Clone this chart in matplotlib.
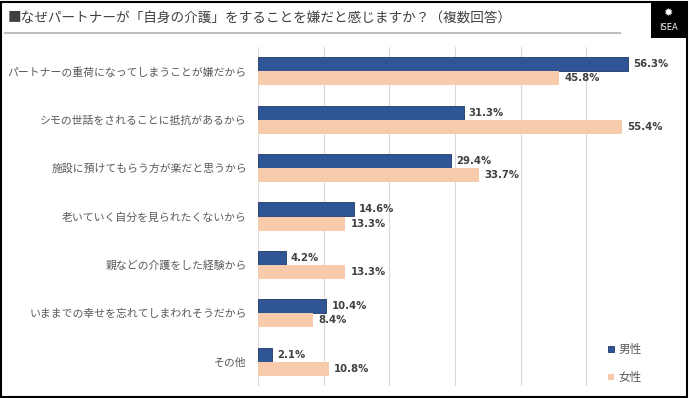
import matplotlib
matplotlib.use("Agg")
import matplotlib.pyplot as plt
from matplotlib.patches import Rectangle
from matplotlib.lines import Line2D
import numpy as np

plt.rcParams['font.family'] = ['Noto Sans CJK JP', 'DejaVu Sans']

title = "■なぜパートナーが「自身の介護」をすることを嫌だと感じますか？（複数回答）"
categories = [
    "パートナーの重荷になってしまうことが嫌だから",
    "シモの世話をされることに抵抗があるから",
    "施設に預けてもらう方が楽だと思うから",
    "老いていく自分を見られたくないから",
    "親などの介護をした経験から",
    "いままでの幸せを忘れてしまわれそうだから",
    "その他",
]
male = [56.3, 31.3, 29.4, 14.6, 4.2, 10.4, 2.1]
female = [45.8, 55.4, 33.7, 13.3, 13.3, 8.4, 10.8]
series_names = ["男性", "女性"]

male_color = "#2F5597"
female_color = "#F8CBAD"
text_color = "#595959"
val_color = "#404040"

W, H = 690, 398
fig = plt.figure(figsize=(W / 100, H / 100), dpi=100)

# outer frame
fig.add_artist(Rectangle((1 / W, 1 / H), (W - 4) / W, (H - 3) / H, transform=fig.transFigure,
                         fill=False, edgecolor="black", linewidth=1.5))
# title
fig.text(8 / W, 1 - 19 / H, title, fontsize=9.8, color=val_color, va="center", ha="left")
fig.add_artist(Line2D([5 / W, 620 / W], [1 - 33 / H, 1 - 33 / H], transform=fig.transFigure,
                      color="#bfbfbf", linewidth=1.5))
# logo
fig.add_artist(Rectangle((651 / W, 1 - 38 / H), 35 / W, 37 / H, transform=fig.transFigure,
                         facecolor="black", edgecolor="none"))
fig.text(668.5 / W, 1 - 13 / H, "✹", fontsize=8, color="white", ha="center", va="center",
         family=["DejaVu Sans"])
fig.text(668.5 / W, 1 - 27 / H, "ISEA", fontsize=6, color="white", ha="center", va="center",
         family=["DejaVu Sans"])

ax = fig.add_axes([258 / W, 1 - 386 / H, (652 - 258) / W, (386 - 47) / H])
n = len(categories)
y = np.arange(n)
h = 0.29
ax.barh(y - h / 2, male, height=h, color=male_color, edgecolor="#1f3864", linewidth=0.6,
        label=series_names[0], zorder=3)
ax.barh(y + h / 2, female, height=h, color=female_color, edgecolor="none",
        label=series_names[1], zorder=3)
for i in range(n):
    ax.text(male[i] + 0.8, y[i] - h / 2, f"{male[i]:.1f}%", va="center", ha="left",
            fontsize=7.3, fontweight="bold", color=val_color, family=["DejaVu Sans"])
    ax.text(female[i] + 0.8, y[i] + h / 2, f"{female[i]:.1f}%", va="center", ha="left",
            fontsize=7.3, fontweight="bold", color=val_color, family=["DejaVu Sans"])

ax.set_xlim(0, 60)
ax.set_ylim(n - 0.5, -0.5)
ax.set_xticks(np.arange(0, 61, 10))
ax.set_xticklabels([])
ax.tick_params(axis="x", length=0)
ax.set_yticks(y)
ax.set_yticklabels(categories, fontsize=7.8, color=text_color)
ax.tick_params(axis="y", length=0, pad=8)
ax.grid(axis="x", color="#d9d9d9", linewidth=0.8, zorder=0)
for s in ax.spines.values():
    s.set_visible(False)

leg = ax.legend(loc="lower right", bbox_to_anchor=(1.0, -0.025), frameon=False, fontsize=8.4,
                handlelength=0.45, handleheight=0.45, labelspacing=1.25, handletextpad=0.4,
                labelcolor=text_color)

fig.savefig("out.png", dpi=100)
